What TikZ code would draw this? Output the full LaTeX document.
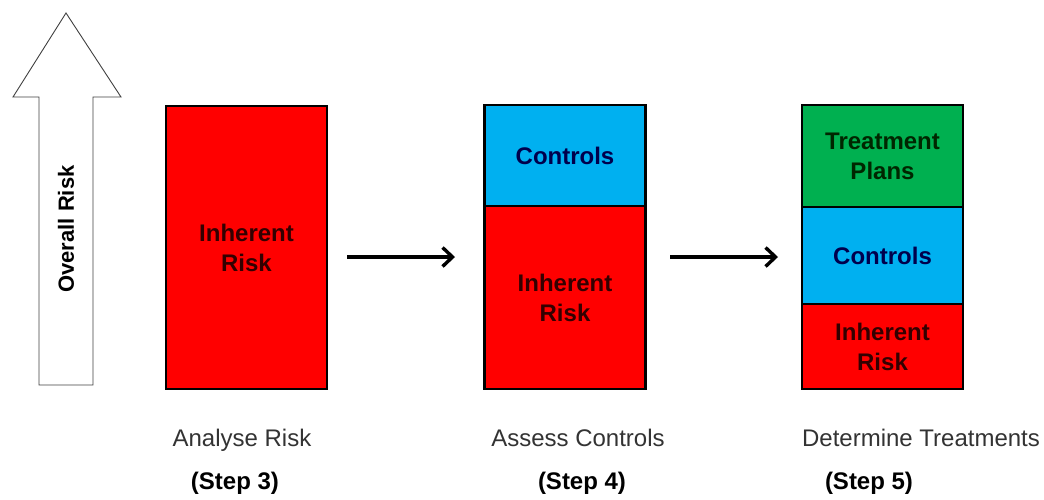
\documentclass[tikz,border=0pt]{standalone}
\usepackage{fontspec}
\setmainfont{Liberation Sans}
\usetikzlibrary{arrows.meta,positioning}
\definecolor{riskred}{RGB}{255,0,0}
\definecolor{ctrlblue}{RGB}{0,176,240}
\definecolor{plangreen}{RGB}{0,176,80}

\begin{document}
\begin{tikzpicture}[x=1pt, y=-1pt,
  part/.style={rectangle, draw=black, line width=2.8pt, minimum width=161pt, align=center, inner sep=0pt, outer sep=0pt, font=\fontsize{24}{30}\selectfont\bfseries},
  risk/.style={part, fill=riskred, text=red!20!black},
  ctrl/.style={part, fill=ctrlblue, text=blue!30!black},
  plan/.style={part, fill=plangreen, text=green!15!black},
  stage/.style={anchor=base, inner sep=0pt, text=black!80, font=\fontsize{24}{30}\selectfont},
  stepno/.style={anchor=base, inner sep=0pt, font=\fontsize{24}{30}\selectfont\bfseries},
  arrow/.style={-{Straight Barb[length=10pt,width=19pt]}, line width=3.4pt}]
\useasboundingbox (0,0) rectangle (1044,499);
% overall risk arrow
\draw[line width=0.9pt, draw=black!75, fill=white] (39,385) -- (39,97) -- (13,97) -- (66,13) -- (121,97) -- (93,97) -- (93,385) -- cycle;
\node[rotate=90, inner sep=0pt, font=\fontsize{22}{26}\selectfont\bfseries] (overall) at (66,229) {Overall Risk};
% step 3
\node[risk, minimum height=283pt, anchor=south] (inh3) at (246.5,389) {Inherent\\Risk};
% step 4
\node[risk, minimum height=183pt, anchor=south] (inh4) at (565,389) {Inherent\\Risk};
\node[ctrl, minimum height=101pt, above=0pt of inh4] (ctl4) {Controls};
% step 5
\node[risk, minimum height=85pt, anchor=south] (inh5) at (882.5,389) {Inherent\\Risk};
\node[ctrl, minimum height=97pt, above=0pt of inh5] (ctl5) {Controls};
\node[plan, minimum height=102pt, above=0pt of ctl5] (plan5) {Treatment\\Plans};
\draw[arrow, shorten <=20pt, shorten >=29.5pt] ([yshift=-9.5pt]inh3.east) -- ([yshift=-9.5pt]inh3.east -| inh4.west);
\draw[arrow, shorten <=24.5pt, shorten >=24pt] ([yshift=-9.5pt]inh3.east -| inh4.east) -- ([yshift=-9.5pt]inh3.east -| inh5.west);
% captions
\node[stage] (ana) at (242,446) {Analyse Risk};
\node[stage] (ass) at (578,446) {Assess Controls};
\node[stage] (det) at (921,446) {Determine Treatments};
\node[stepno] (s3) at (235,489) {(Step 3)};
\node[stepno] (s4) at (582,489) {(Step 4)};
\node[stepno] (s5) at (869,489) {(Step 5)};
\end{tikzpicture}
\end{document}
